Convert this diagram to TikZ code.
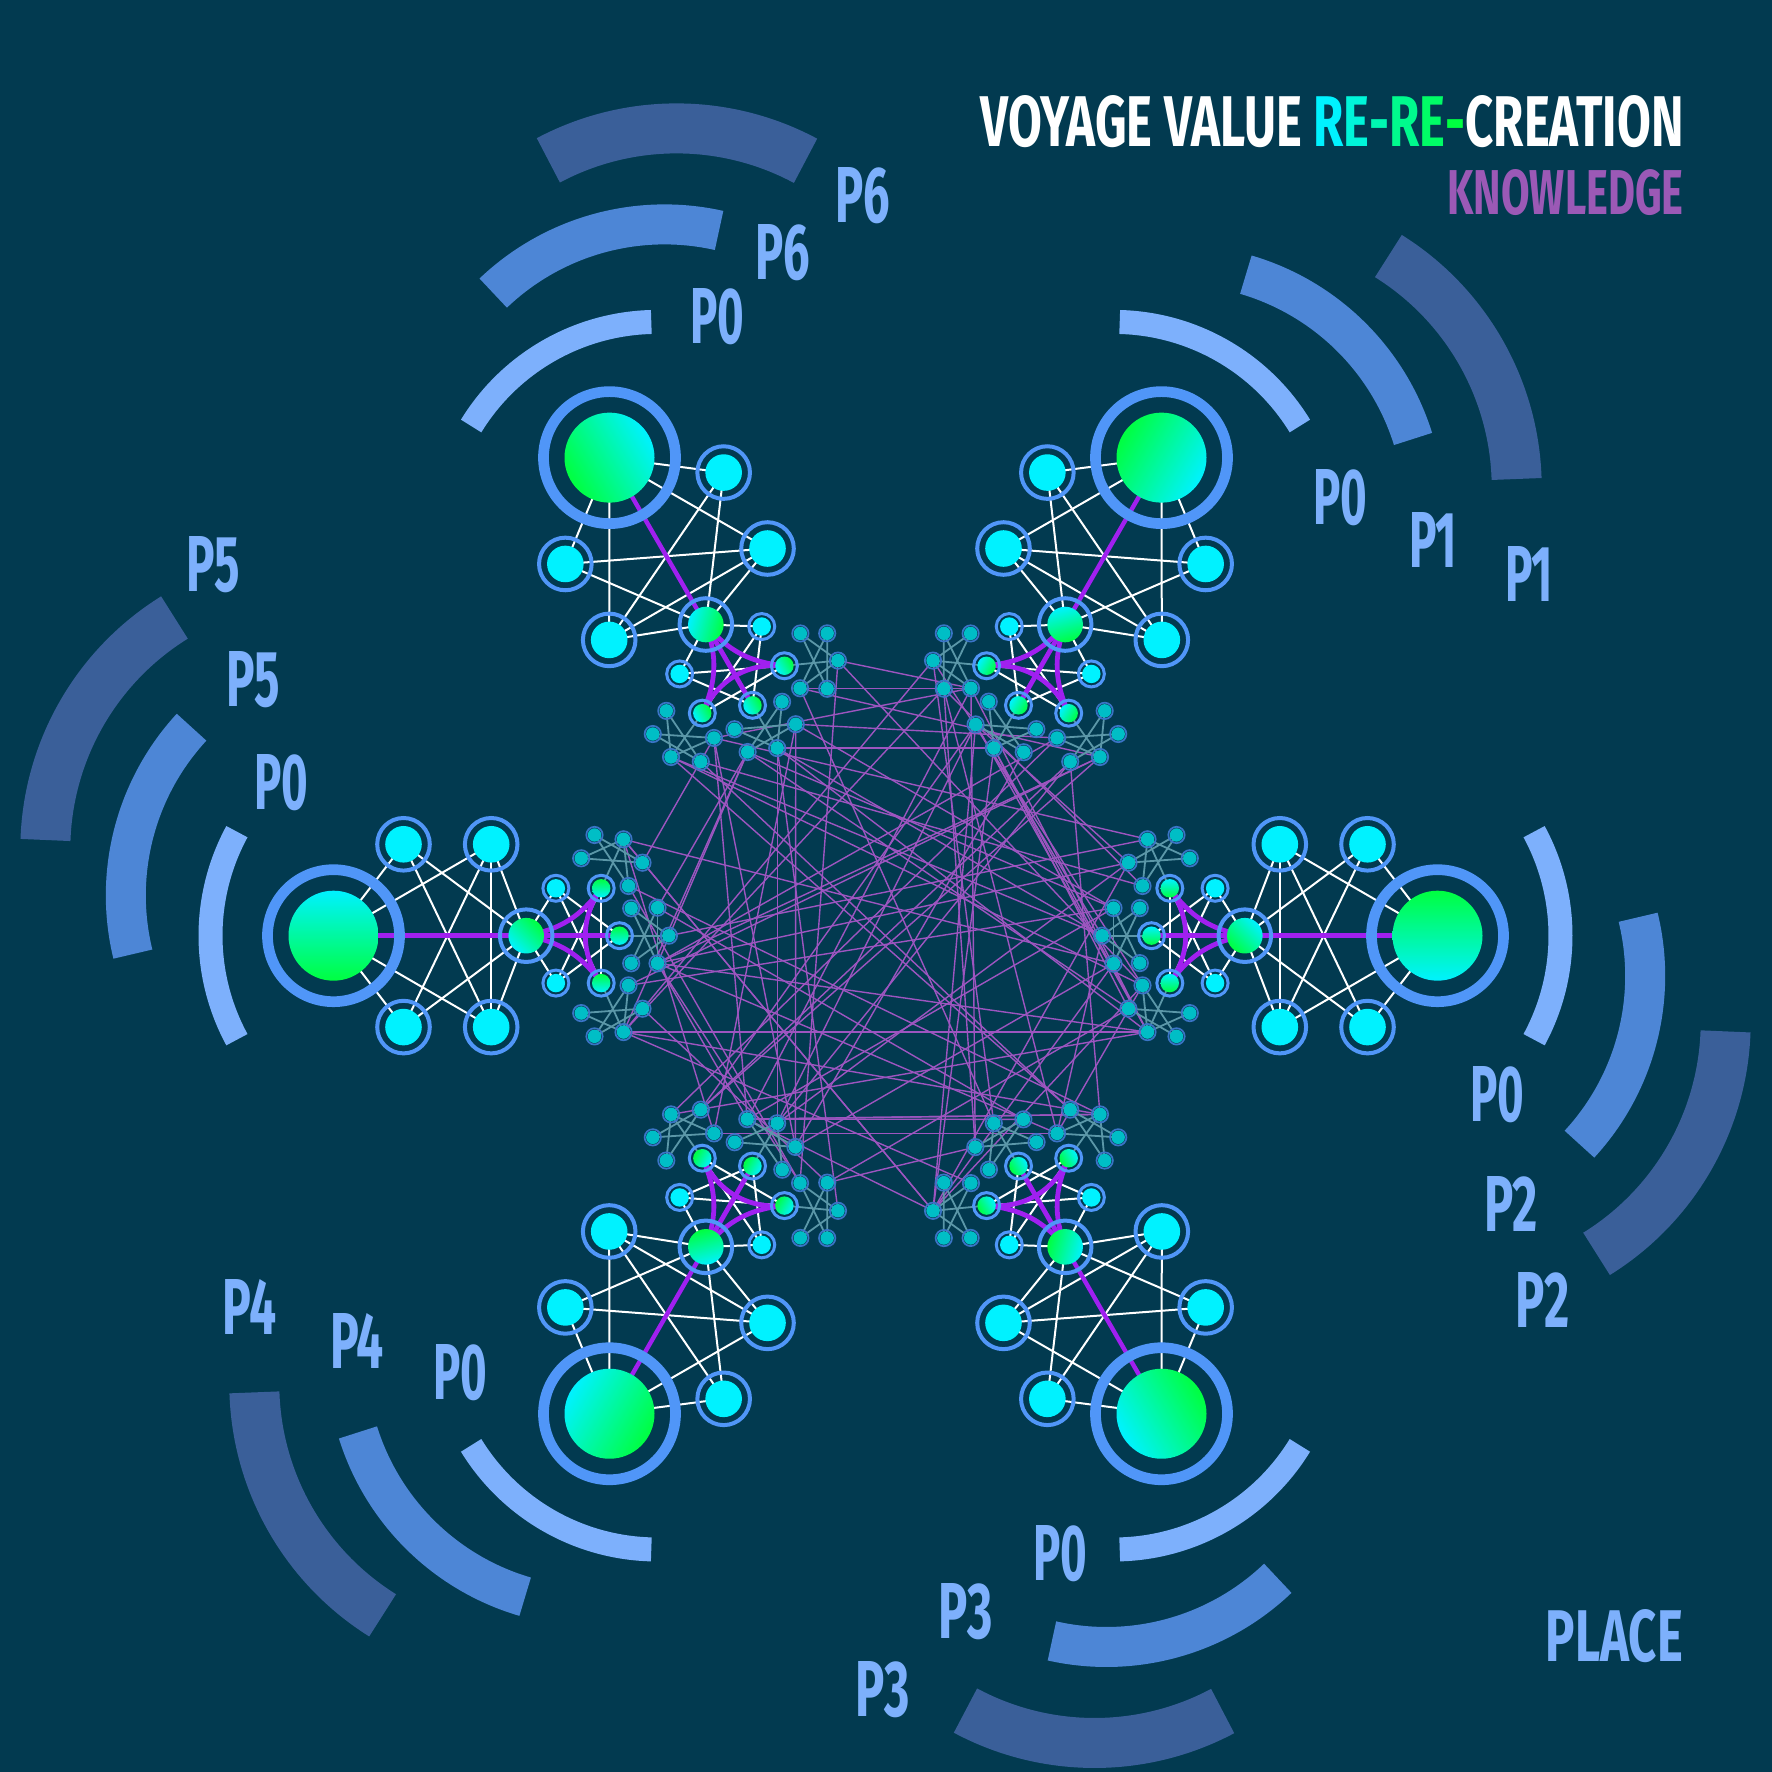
\documentclass[tikz,border=0pt]{standalone}
\usepackage{fontspec}
\usepackage{graphicx}
\setmainfont{Fira Sans}
\usetikzlibrary{calc}
\definecolor{bgc}{HTML}{023A50}
\definecolor{grn}{HTML}{00FF40}
\definecolor{cyn}{HTML}{00F2FF}
\definecolor{hring}{HTML}{5096F8}
\definecolor{tealf}{HTML}{00BEC6}
\definecolor{tealr}{HTML}{3A74C6}
\definecolor{tealedge}{HTML}{5B97A8}
\definecolor{pthick}{HTML}{A020F0}
\definecolor{pthin}{HTML}{9D55C0}
\definecolor{arcA}{HTML}{7DB0FC}
\definecolor{arcB}{HTML}{4D86D6}
\definecolor{arcC}{HTML}{3A5F99}
\definecolor{labc}{HTML}{7DB0FC}
\definecolor{knowc}{HTML}{9B59B6}
\pgfdeclarelayer{back}
\pgfdeclarelayer{edges}
\pgfsetlayers{back,edges,main}
\newcommand{\fitt}[3]{\resizebox{#1}{#2}{\bfseries #3}}
\tikzset{
  hubn/.style={circle,inner sep=0pt,minimum size=45pt,top color=grn,bottom color=cyn},
  cnode/.style={circle,inner sep=0pt,minimum size=18.3pt,fill=cyn},
  mnode/.style={circle,inner sep=0pt,minimum size=17.8pt,top color=grn,bottom color=cyn},
  snode/.style={circle,inner sep=0pt,minimum size=9.2pt,fill=cyn},
  gnode/.style={circle,inner sep=0pt,minimum size=9.2pt,top color=grn,bottom color=cyn},
  tnode/.style={circle,inner sep=0pt,minimum size=6.7pt,fill=tealf},
  hubring/.style={draw=hring,line width=5.35pt},
  midring/.style={draw=hring,line width=2pt},
  smallring/.style={draw=hring,line width=1.5pt},
  tring/.style={draw=tealr,line width=0.85pt},
  wedge/.style={draw=white,line width=1pt},
  tedge/.style={draw=tealedge,line width=0.9pt},
  pbold/.style={draw=pthick,line width=2.4pt},
  pfine/.style={draw=pthin,line width=0.7pt},
  arcone/.style={draw=arcA,line width=12pt},
  arctwo/.style={draw=arcB,line width=20pt},
  arcthree/.style={draw=arcC,line width=25pt},
  lab/.style={inner sep=0pt,text=labc},
}
\begin{document}
\begin{tikzpicture}[x=0.5pt,y=0.5pt]
\useasboundingbox (0,0) rectangle (1772,1772);
\begin{pgfonlayer}{back}
\fill[bgc] (0,0) rectangle (1772,1772);
\end{pgfonlayer}

\foreach \arm/\ang in {0/0,1/60,2/120,3/180,4/240,5/300}{
  \pgfmathsetmacro{\hx}{885.5+552*cos(\ang)}
  \pgfmathsetmacro{\hy}{836.3+552*sin(\ang)}
  \pgfmathsetmacro{\rot}{\ang-180}
  \pgfmathsetmacro{\angM}{\ang-225}
  \pgfmathsetmacro{\angG}{\ang-180}
  \draw[arcone] ($(\hx,\hy)+(\ang+180:95)$) ++(\ang-28.5:218) arc[start angle=\ang-28.5,end angle=\ang+28.5,radius=218];
  \draw[arctwo] ($(\hx,\hy)+(\ang+225:57)$) ++(\ang-42.7:248) arc[start angle=\ang-42.7,end angle=\ang+13.7,radius=248];
  \draw[arcthree] ($(\hx,\hy)+(\ang+280:87.5)$) ++(\ang-58.2:273) arc[start angle=\ang-58.2,end angle=\ang-2,radius=273];
  \begin{scope}[shift={(\hx,\hy)},rotate=\rot]
    \node[hubn,shading angle=\ang] (h\arm) at (0,0) {};
    \node[cnode] (c\arm-1) at (70,91.4) {};
    \node[cnode] (c\arm-2) at (157.7,91.4) {};
    \node[cnode] (c\arm-3) at (70,-91.4) {};
    \node[cnode] (c\arm-4) at (157.7,-91.4) {};
    \node[mnode,shading angle=\angM] (m\arm) at (192.7,0) {};
    \node[snode] (s\arm-1) at (222.4,47.4) {};
    \node[snode] (s\arm-2) at (222.4,-47.4) {};
    \node[gnode,shading angle=\angG] (g\arm-1) at (267.7,47.4) {};
    \node[gnode,shading angle=\angG] (g\arm-2) at (286,0) {};
    \node[gnode,shading angle=\angG] (g\arm-3) at (267.7,-47.4) {};
    \foreach \uu/\vv [count=\jj] in {247.7/77.4,261/100.7,290/96.4,309/73,295/49.7}{
      \node[tnode] (t\arm-1-\jj) at (\uu,\vv) {};
      \node[tnode] (t\arm-3-\jj) at (\uu,-\vv) {};
    }
    \foreach \uu/\vv [count=\jj] in {297.7/27.4,324/28,335.4/0,324/-27.6,297.7/-27.6}{
      \node[tnode] (t\arm-2-\jj) at (\uu,\vv) {};
    }
  \end{scope}
  \draw[hubring] (h\arm.center) circle (66);
  \foreach \nn in {c\arm-1,c\arm-2,c\arm-3,c\arm-4,m\arm} \draw[midring] (\nn.center) circle (26.3);
  \foreach \nn in {s\arm-1,s\arm-2,g\arm-1,g\arm-2,g\arm-3} \draw[smallring] (\nn.center) circle (13);
  \foreach \cl in {1,2,3}{\foreach \jj in {1,...,5} \draw[tring] (t\arm-\cl-\jj.center) circle (8.2);}
  \begin{pgfonlayer}{edges}
    \foreach \cl in {1,2,3}{
      \foreach \ea/\eb in {1/3,1/4,2/4,2/5,3/5} \draw[tedge] (t\arm-\cl-\ea.center) -- (t\arm-\cl-\eb.center);
      \draw[tedge] (g\arm-\cl.center) -- (t\arm-\cl-3.center);
    }
    \foreach \ea/\eb in {h\arm/c\arm-1,h\arm/c\arm-2,h\arm/c\arm-3,h\arm/c\arm-4,c\arm-1/c\arm-4,c\arm-2/c\arm-3,c\arm-2/c\arm-4,c\arm-1/m\arm,c\arm-2/m\arm,c\arm-3/m\arm,c\arm-4/m\arm,m\arm/s\arm-1,m\arm/s\arm-2,s\arm-1/g\arm-2,s\arm-2/g\arm-2,s\arm-1/g\arm-3,s\arm-2/g\arm-1,g\arm-1/g\arm-3}
      \draw[wedge] (\ea.center) -- (\eb.center);
    \draw[pbold,line width=2.2pt] (h\arm.center) -- (m\arm.center);
    \draw[pbold] (m\arm.center) to[bend right=22] (g\arm-1.center);
    \draw[pbold] (m\arm.center) -- (g\arm-2.center);
    \draw[pbold] (m\arm.center) to[bend left=22] (g\arm-3.center);
    \draw[pbold] (g\arm-1.center) to[bend right=35] (g\arm-3.center);
  \end{pgfonlayer}
}

\pgfmathsetseed{7311}
\begin{pgfonlayer}{back}
\foreach \ii in {1,...,92}{
  \pgfmathrandominteger{\ra}{0}{5}
  \pgfmathrandominteger{\rd}{1}{5}
  \pgfmathtruncatemacro{\rb}{mod(\ra+\rd,6)}
  \pgfmathrandominteger{\rca}{1}{3}
  \pgfmathrandominteger{\rcb}{1}{3}
  \pgfmathrandominteger{\rna}{3}{5}
  \pgfmathrandominteger{\rnb}{3}{5}
  \pgfmathtruncatemacro{\rna}{\rca==2 ? \rna-1 : \rna}
  \pgfmathtruncatemacro{\rnb}{\rcb==2 ? \rnb-1 : \rnb}
  \draw[pfine] (t\ra-\rca-\rna.center) -- (t\rb-\rcb-\rnb.center);
}
\end{pgfonlayer}

\foreach \tx/\xx/\yy/\ww [count=\ii] in {
  P0/1497.2/1094.2/27, P2/1511/1204.2/26.75, P2/1542.6/1299.6/26.75,
  P0/1340.3/497.2/27, P1/1433/540.2/24, P1/1529/574.1/24,
  P0/717.3/316.2/27, P6/782.8/253/27.15, P6/862.8/195.3/27.15,
  P0/281.3/783/27, P5/253.3/680/26.65, P5/213.6/565/26.65,
  P0/460/1373/27, P4/357.1/1341.4/27, P4/249.8/1307.5/27,
  P0/1060/1554/27, P3/965.8/1611.7/26.85, P3/882.6/1689.5/26.85}{
  \node[lab] (lab\ii) at (\xx,1772-\yy) {\fitt{\ww pt}{27.5pt}{\tx}};
}

\node[anchor=base east,inner sep=0pt] (title) at (1684,1625)
  {\fitt{351.5pt}{25.5pt}{\color{white}VOYAGE VALUE \color{cyn}R\color{grn!20!cyn}E\color{grn!40!cyn}-\color{grn!60!cyn}R\color{grn!80!cyn}E\color{grn}-\color{white}CREATION}};
\node[anchor=base east,inner sep=0pt,text=knowc] (know) at (1684,1557.3) {\fitt{118pt}{22.5pt}{KNOWLEDGE}};
\node[anchor=base east,inner sep=0pt,text=labc] (place) at (1683.3,110.3) {\fitt{68.5pt}{26pt}{PLACE}};
\end{tikzpicture}
\end{document}
